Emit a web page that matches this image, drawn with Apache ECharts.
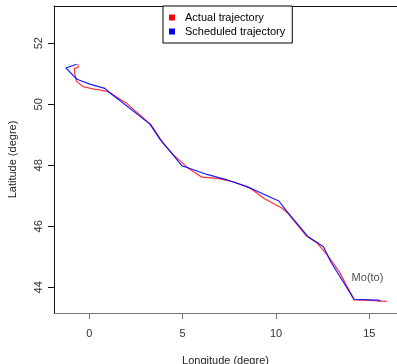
<!DOCTYPE html>
<html>
<head>
<meta charset="utf-8">
<script src="https://cdn.jsdelivr.net/npm/echarts@6/dist/echarts.min.js"></script>
<style>
  html, body { margin: 0; padding: 0; background: #fff; }
  #main { width: 397px; height: 364px; }
</style>
</head>
<body>
<div id="main"></div>
<script>
// scheduled trajectory [lon, lat]
const scheduled = [
  [-0.68, 51.31], [-1.26, 51.19], [-0.66, 50.82], [0.03, 50.66], [0.83, 50.52],
  [1.05, 50.40], [3.25, 49.35], [3.79, 48.85], [4.0, 48.70], [4.42, 48.39],
  [4.96, 47.98], [5.28, 47.92], [6.30, 47.70], [7.38, 47.52], [8.45, 47.30],
  [9.17, 47.10], [10.15, 46.83], [10.56, 46.51], [11.71, 45.66], [12.12, 45.50],
  [12.54, 45.33], [12.93, 44.84], [14.18, 43.61], [15.44, 43.58], [15.6, 43.56]
];
// actual trajectory [lon, lat]
const actual = [
  [-0.60, 51.31], [-0.60, 51.20], [-0.80, 51.18], [-0.78, 51.02], [-0.69, 50.75],
  [-0.33, 50.58], [0.30, 50.49], [0.56, 50.47], [1.01, 50.41], [2.0, 50.03],
  [2.81, 49.59], [3.30, 49.33], [3.61, 49.05], [3.95, 48.72], [4.51, 48.34],
  [5.31, 47.90], [6.03, 47.61], [6.84, 47.57], [7.73, 47.46], [8.63, 47.25],
  [9.34, 46.92], [10.33, 46.59], [10.63, 46.43], [11.6, 45.70], [12.2, 45.45],
  [12.75, 45.06], [13.4, 44.50], [14.18, 43.59], [15.0, 43.57], [15.93, 43.54]
];
const xTicks = [0, 5, 10, 15];
const yTicks = [44, 46, 48, 50, 52];
const destLabel = { name: "Mo(to)", value: [14.9, 44.3] };

const font = "Liberation Sans, Arial, sans-serif";
const chart = echarts.init(document.getElementById("main"));
chart.setOption({
  animation: false,
  grid: { left: 54, right: 0, top: 6, bottom: 51, containLabel: false, outerBoundsMode: "none" },
  legend: {
    left: 163, top: 6,
    orient: "vertical",
    data: [
      { name: "Actual trajectory", icon: "rect" },
      { name: "Scheduled trajectory", icon: "rect" }
    ],
    itemWidth: 6, itemHeight: 6, itemGap: 3,
    itemStyle: { borderWidth: 0 },
    padding: [6, 7, 6, 6],
    borderColor: "#000", borderWidth: 1,
    textStyle: { fontFamily: font, fontSize: 11, color: "#000", padding: [0, 0, 0, 5], lineHeight: 11 },
    backgroundColor: "#fff"
  },
  xAxis: [
    {
      type: "value", min: -1.89, max: 16.48,
      name: "Longitude (degre)", nameLocation: "middle", nameGap: 42,
      nameTextStyle: { fontFamily: font, fontSize: 11, color: "#222" },
      splitLine: { show: false },
      axisLine: { lineStyle: { color: "#777" } },
      axisTick: { customValues: xTicks, length: 6, lineStyle: { color: "#777" } },
      axisLabel: { customValues: xTicks, margin: 15, fontFamily: font, fontSize: 11, color: "#333" }
    },
    {
      type: "value", position: "top", min: -1.89, max: 16.48,
      splitLine: { show: false },
      axisLine: { show: true, onZero: false, lineStyle: { color: "#111" } },
      axisTick: { show: false },
      axisLabel: { show: false }
    }
  ],
  yAxis: {
    type: "value", min: 43.16, max: 53.22,
    name: "Latitude (degre)", nameLocation: "middle", nameGap: 36,
    nameTextStyle: { fontFamily: font, fontSize: 11, color: "#222" },
    splitLine: { show: false },
    axisLine: { show: true, onZero: false, lineStyle: { color: "#111" } },
    axisTick: { show: true, customValues: yTicks, length: 6, lineStyle: { color: "#111" } },
    axisLabel: { customValues: yTicks, rotate: 90, margin: 10, fontFamily: font, fontSize: 11, color: "#333" }
  },
  series: [
    {
      name: "Actual trajectory", type: "line", data: actual,
      showSymbol: false, symbol: "rect",
      itemStyle: { color: "#ff0000" },
      lineStyle: { color: "#ff0000", width: 1.2, opacity: 0.8 }
    },
    {
      name: "Scheduled trajectory", type: "line", data: scheduled,
      showSymbol: false, symbol: "rect",
      itemStyle: { color: "#0000ff" },
      lineStyle: { color: "#0000ff", width: 1.2, opacity: 0.9 }
    },
    {
      name: "label", type: "scatter", symbolSize: 0,
      data: [destLabel],
      label: {
        show: true, position: "inside", formatter: "{b}",
        fontFamily: font, fontSize: 11, color: "#222"
      }
    }
  ]
});
</script>
</body>
</html>
